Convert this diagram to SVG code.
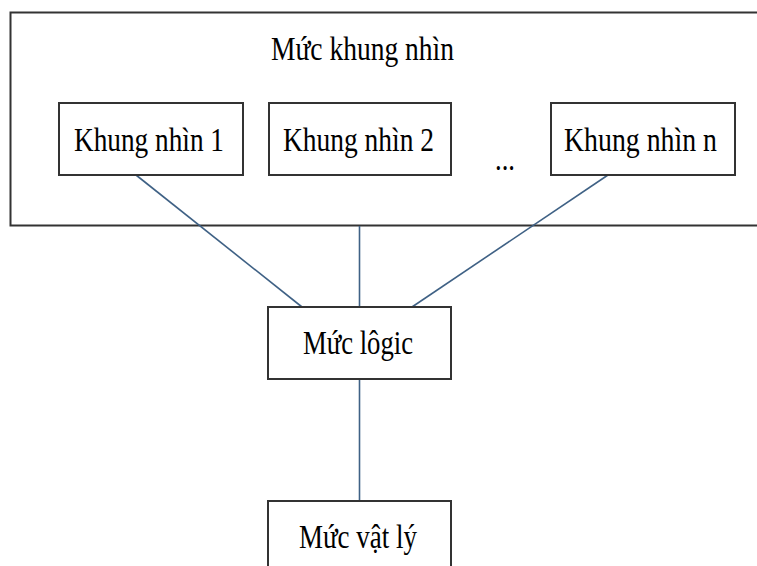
<svg xmlns="http://www.w3.org/2000/svg" width="757" height="566" viewBox="0 0 757 566">
<style>
.box{fill:#fff;stroke:#333;stroke-width:2}
.lbl{font-family:"Liberation Serif","Times New Roman",serif;font-size:33px;fill:#000}
.con{stroke:#3f6185;stroke-width:1.6;fill:none}
</style>
<rect width="757" height="566" fill="#fff"/>
<g id="muc-khung-nhin">
<rect class="box" x="10.5" y="12.5" width="760" height="213"/>
<text class="lbl" x="271" y="60" textLength="183" lengthAdjust="spacingAndGlyphs">Mức khung nhìn</text>
</g>
<g id="connectors">
<line class="con" x1="136" y1="175" x2="302" y2="307"/>
<line class="con" x1="608" y1="175" x2="412" y2="307"/>
<line class="con" x1="359.5" y1="226" x2="359.5" y2="307"/>
<line class="con" x1="359.5" y1="379" x2="359.5" y2="501"/>
</g>
<g id="khung-nhin-1">
<rect class="box" x="59" y="103" width="184" height="72"/>
<text class="lbl" x="74" y="151" textLength="150" lengthAdjust="spacingAndGlyphs">Khung nhìn 1</text>
</g>
<g id="khung-nhin-2">
<rect class="box" x="269" y="103" width="182" height="72"/>
<text class="lbl" x="283" y="151" textLength="151" lengthAdjust="spacingAndGlyphs">Khung nhìn 2</text>
</g>
<g id="ellipsis">
<text class="lbl" x="495" y="170" textLength="20" lengthAdjust="spacingAndGlyphs">...</text>
</g>
<g id="khung-nhin-n">
<rect class="box" x="551" y="103" width="184" height="72"/>
<text class="lbl" x="564" y="151" textLength="153" lengthAdjust="spacingAndGlyphs">Khung nhìn n</text>
</g>
<g id="muc-logic">
<rect class="box" x="268" y="307" width="183" height="72"/>
<text class="lbl" x="303" y="354" textLength="110" lengthAdjust="spacingAndGlyphs">Mức lôgic</text>
</g>
<g id="muc-vat-ly">
<rect class="box" x="268" y="501" width="183" height="80"/>
<text class="lbl" x="299" y="548" textLength="118" lengthAdjust="spacingAndGlyphs">Mức vật lý</text>
</g>
</svg>
